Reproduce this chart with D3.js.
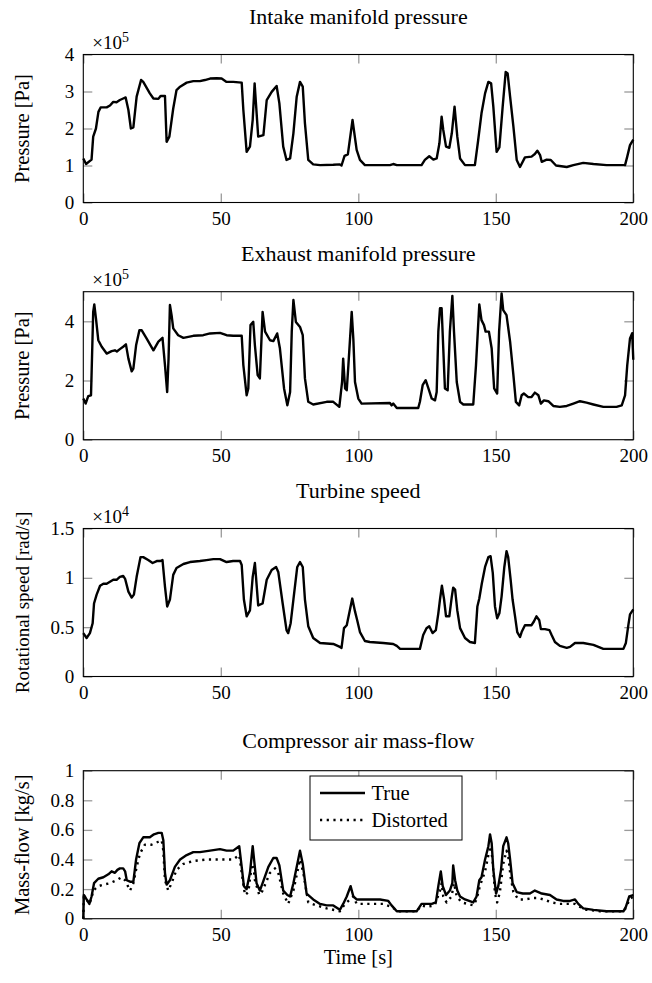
<!DOCTYPE html>
<html>
<head>
<meta charset="utf-8">
<script src="https://cdn.jsdelivr.net/npm/d3@7"></script>
<style>
  html, body { margin: 0; padding: 0; background: #fff; }
  svg text { font-family: "Liberation Serif", "DejaVu Serif", serif; fill: #000; }
</style>
</head>
<body>
<svg id="chart" width="652" height="983"></svg>
<script>
// time [s] vs value
const intake = [[0,1.19],[1,1.04],[3,1.16],[3.6,1.78],[4.6,2.0],[5.5,2.45],[6.3,2.57],[8.5,2.57],[9.7,2.62],[10.9,2.72],[12.1,2.71],[13.3,2.77],[14.5,2.81],[15.4,2.84],[16.4,2.5],[17.3,2.0],[18.2,2.03],[19.4,2.86],[21,3.31],[21.8,3.26],[24.2,2.95],[25.5,2.81],[27.3,2.8],[28.1,2.88],[29.7,2.88],[30.3,1.64],[31.3,1.78],[32.7,2.54],[33.9,3.04],[35.2,3.13],[37.6,3.24],[40,3.28],[42.4,3.28],[44.2,3.31],[46.1,3.35],[48.5,3.36],[50.3,3.35],[52.1,3.26],[54.5,3.26],[57.6,3.24],[58.2,2.5],[59.4,1.37],[60.6,1.51],[61.6,2.23],[62.3,3.22],[62.7,2.77],[63.6,1.78],[65.5,1.82],[66.7,2.77],[68.5,2.99],[70.3,3.15],[71.3,2.68],[72.7,1.51],[73.9,1.15],[75.2,1.19],[76.4,1.87],[77.6,2.86],[78.8,3.26],[79.8,3.13],[80.6,2.14],[81.8,1.15],[83.6,1.03],[86.1,1.01],[90.9,1.02],[93.3,1.03],[93.9,1.0],[95,1.26],[96.2,1.3],[97.9,2.23],[99.4,1.42],[100.6,1.15],[102.4,1.01],[111.5,1.01],[112.7,1.04],[114,1.01],[123,1.01],[124.2,1.15],[125.8,1.25],[127.3,1.16],[128.5,1.19],[129.5,1.6],[130.3,2.32],[130.9,1.96],[131.9,1.51],[133.1,1.48],[134,1.87],[135,2.59],[136,1.78],[137,1.19],[138.8,1.01],[142.4,1.01],[143.6,1.69],[144.8,2.41],[146.1,2.95],[147.3,3.26],[148.3,3.22],[149.1,2.59],[150.3,1.37],[151.3,1.49],[152.5,2.59],[153.6,3.53],[154.3,3.49],[155.2,2.86],[156.4,2.05],[157.6,1.15],[158.8,0.96],[160.6,1.22],[163,1.24],[164.2,1.31],[165.1,1.4],[166.1,1.28],[166.7,1.1],[168.5,1.16],[170,1.15],[171.9,1.0],[175.8,0.96],[178.2,1.01],[181.8,1.07],[185.5,1.04],[190.3,1.01],[197,1.01],[197.8,1.24],[198.8,1.55],[200,1.7]];

const exhaust = [[0,1.39],[0.85,1.22],[1.8,1.47],[2.8,1.5],[3.0,2.18],[3.6,4.32],[4.0,4.57],[4.6,4.1],[5.45,3.36],[6.7,3.14],[8.5,2.91],[10.3,2.99],[11.5,3.02],[12.2,2.98],[13.3,3.06],[14.5,3.14],[15.5,3.22],[16.4,2.74],[17.6,2.31],[18.2,2.4],[19.2,3.19],[20.4,3.7],[21.2,3.7],[23,3.42],[25.5,3.02],[27.3,3.31],[28.8,3.44],[29.7,2.52],[30.5,1.61],[31.0,2.74],[31.5,4.55],[32.1,4.21],[32.7,3.76],[34.5,3.53],[36.4,3.44],[40,3.51],[43.6,3.53],[46.1,3.59],[49.7,3.61],[52.1,3.53],[54.5,3.51],[57.6,3.51],[58.2,2.52],[59.4,1.5],[60,1.73],[60.8,3.87],[61.8,3.98],[62.4,3.19],[63.4,2.18],[64.2,2.07],[65.2,4.32],[66.1,3.65],[67.9,3.36],[69.1,3.33],[70.5,3.59],[71.5,3.08],[73,1.73],[74.2,1.16],[75.2,1.61],[75.8,3.65],[76.4,4.72],[77.3,3.98],[78.8,3.81],[79.8,3.53],[80.6,2.07],[81.8,1.28],[83.6,1.19],[88.5,1.28],[90.9,1.28],[93.1,1.11],[94.1,1.95],[94.5,2.74],[95.2,1.73],[95.8,1.67],[96.4,2.52],[97,3.42],[97.6,4.32],[98.2,3.4],[98.8,1.95],[100,1.39],[101.2,1.22],[111.5,1.24],[112.1,1.16],[112.7,1.22],[114,1.07],[121.8,1.07],[122.4,1.28],[123.4,1.84],[124.5,2.01],[125.5,1.73],[126.7,1.39],[127.9,1.33],[128.5,1.61],[129.1,3.65],[129.7,4.44],[130.3,4.44],[130.9,3.08],[131.5,1.73],[132.5,1.67],[133.3,3.65],[134.2,4.86],[134.8,3.65],[135.8,1.95],[137,1.28],[138.2,1.19],[141.8,1.19],[142.8,2.52],[144,4.57],[144.8,4.04],[145.7,3.87],[146.3,3.65],[147.5,3.65],[148.5,3.08],[149.4,1.73],[150.5,1.56],[151.2,3.65],[152.1,4.94],[152.7,4.38],[153.9,4.21],[155.2,3.31],[156.4,2.18],[157.3,1.28],[158.5,1.16],[159.4,1.5],[160.2,1.56],[161.8,1.44],[163,1.44],[164.2,1.59],[165.5,1.5],[166.4,1.22],[167.5,1.33],[169.1,1.3],[170.9,1.14],[173.3,1.11],[175.8,1.14],[178.2,1.22],[180.6,1.3],[183,1.25],[185.5,1.19],[189.1,1.11],[193.9,1.11],[195.8,1.16],[197,1.5],[197.8,2.52],[198.8,3.42],[199.6,3.6],[200,2.7]];

const turbine = [[0,0.44],[1.2,0.39],[2.4,0.44],[3.4,0.54],[3.9,0.74],[4.85,0.83],[6.1,0.92],[7.3,0.94],[8.5,0.94],[9.7,0.96],[10.9,0.98],[12.1,0.98],[13.3,1.01],[14.5,1.02],[15.2,0.99],[16.4,0.86],[17.6,0.8],[18.4,0.83],[19.4,1.01],[20.8,1.21],[21.8,1.21],[23.6,1.18],[25.2,1.15],[26.7,1.17],[27.9,1.17],[28.8,1.18],[29.7,0.91],[30.5,0.71],[31.5,0.78],[32.7,1.03],[33.9,1.1],[36.4,1.14],[38.8,1.16],[42.4,1.17],[44.8,1.18],[47.3,1.19],[49.7,1.19],[52.1,1.16],[54.5,1.17],[57,1.17],[57.6,1.13],[58.4,0.78],[59.4,0.61],[60.6,0.67],[61.6,1.01],[62.4,1.15],[62.8,1.01],[63.6,0.72],[65.2,0.74],[66.7,0.98],[68.5,1.08],[70.1,1.11],[70.9,1.06],[72.5,0.74],[73.9,0.47],[74.5,0.44],[75.4,0.54],[76.4,0.78],[77.8,1.11],[78.8,1.16],[79.8,1.11],[80.6,0.78],[81.8,0.51],[83.6,0.39],[86.1,0.34],[90.9,0.33],[93.3,0.3],[93.9,0.29],[94.8,0.49],[95.8,0.52],[96.7,0.64],[97.8,0.79],[98.8,0.66],[99.6,0.57],[100.6,0.45],[102.4,0.36],[104.2,0.35],[109.1,0.34],[112.7,0.33],[114,0.31],[115.2,0.28],[122.4,0.28],[123.6,0.42],[124.8,0.49],[125.8,0.51],[127,0.44],[128.2,0.47],[129.1,0.64],[129.7,0.78],[130.4,0.92],[131.2,0.78],[131.9,0.61],[133.1,0.61],[134,0.81],[134.5,0.9],[135.2,0.88],[136,0.67],[137,0.49],[138.8,0.39],[140.6,0.35],[142.4,0.34],[143.3,0.71],[144,0.79],[144.9,0.94],[146.1,1.11],[147.3,1.21],[148.1,1.22],[148.9,1.05],[149.7,0.71],[150.5,0.59],[151.3,0.64],[152.1,0.81],[153.1,1.11],[153.9,1.27],[154.5,1.21],[155.4,0.98],[156.1,0.78],[157,0.61],[157.8,0.45],[158.8,0.4],[159.4,0.45],[160.6,0.52],[163,0.52],[163.9,0.56],[164.8,0.61],[165.8,0.57],[166.4,0.48],[167.9,0.48],[169.5,0.47],[170.3,0.42],[171.5,0.35],[173.3,0.31],[175.8,0.29],[177,0.3],[178.8,0.34],[181.8,0.34],[185.5,0.32],[189.1,0.28],[196.4,0.28],[197.3,0.34],[198.2,0.52],[198.8,0.63],[200,0.68]];

const flowTrue = [[0,0],[0.2,0.16],[0.6,0.15],[1.2,0.13],[2.2,0.1],[3,0.15],[3.9,0.24],[5.45,0.27],[7.3,0.28],[9.1,0.3],[10.3,0.32],[11.5,0.31],[12.4,0.33],[13.3,0.34],[14.5,0.34],[15.2,0.32],[15.8,0.26],[17,0.25],[18.2,0.25],[19.2,0.4],[20.4,0.51],[21.8,0.55],[24.2,0.55],[25.7,0.57],[27.3,0.58],[28.5,0.58],[29.1,0.53],[29.7,0.31],[30.3,0.23],[31.5,0.26],[33.3,0.35],[35.2,0.4],[37.6,0.43],[40,0.45],[42.4,0.45],[46.1,0.46],[49.7,0.47],[52.1,0.46],[54.5,0.46],[56.7,0.49],[57.6,0.35],[58.4,0.22],[59.4,0.2],[60.6,0.31],[61.6,0.49],[62.1,0.4],[63,0.24],[64.2,0.19],[65.2,0.24],[67.3,0.35],[69.1,0.41],[70.3,0.41],[71.3,0.36],[72.7,0.19],[74.2,0.16],[75.2,0.15],[76.4,0.24],[78.8,0.46],[79.8,0.37],[81.2,0.17],[83.6,0.13],[86.1,0.1],[88.5,0.09],[90.9,0.09],[93.3,0.06],[94.5,0.1],[95.8,0.15],[97.2,0.22],[98.2,0.15],[99.4,0.13],[103,0.13],[107.9,0.13],[110.9,0.12],[112.1,0.09],[114,0.05],[121.2,0.05],[123,0.1],[124.2,0.1],[125.5,0.1],[126.7,0.1],[128.2,0.11],[129.1,0.22],[130,0.32],[130.7,0.22],[131.9,0.16],[133.3,0.19],[134.2,0.24],[134.5,0.36],[135.2,0.26],[136,0.19],[137,0.15],[138.8,0.13],[141.8,0.11],[143,0.15],[144,0.26],[144.8,0.28],[146.1,0.4],[147.3,0.49],[147.9,0.57],[148.5,0.51],[149.1,0.33],[150.1,0.17],[150.9,0.22],[151.9,0.33],[152.7,0.49],[153.9,0.55],[154.5,0.51],[155.2,0.4],[156.1,0.24],[157.6,0.18],[159.8,0.17],[162.4,0.17],[164.2,0.19],[165.5,0.18],[166.7,0.17],[169.7,0.16],[172.1,0.13],[174.5,0.12],[177,0.12],[178.8,0.13],[180,0.1],[181.8,0.07],[185.5,0.06],[190.3,0.05],[196.4,0.05],[197.3,0.08],[198.5,0.15],[200,0.16]];

const flowDistorted = [[0,0],[0.2,0.15],[1.2,0.13],[2.2,0.1],[3,0.14],[3.6,0.19],[5.45,0.22],[7.3,0.23],[9.7,0.24],[12.1,0.26],[13.9,0.28],[15.2,0.26],[17,0.19],[18.2,0.24],[19.4,0.35],[20.6,0.44],[22.4,0.5],[24.8,0.5],[27.3,0.52],[28.5,0.53],[29.1,0.46],[29.7,0.26],[30.9,0.19],[32.1,0.24],[33.9,0.33],[36.4,0.37],[40,0.39],[44.8,0.4],[49.7,0.4],[54.5,0.4],[56.7,0.43],[57.6,0.31],[58.8,0.16],[60,0.18],[61.2,0.35],[61.8,0.37],[62.4,0.26],[64,0.16],[65.2,0.19],[67.9,0.31],[69.7,0.34],[70.9,0.31],[72.7,0.17],[74.5,0.1],[76.4,0.19],[78.8,0.4],[80,0.31],[81.8,0.11],[84.8,0.09],[88.5,0.07],[93.3,0.05],[95.2,0.1],[97.6,0.14],[98.2,0.15],[99.4,0.1],[103,0.1],[109.1,0.1],[112.1,0.08],[114.5,0.05],[121.2,0.05],[123,0.09],[124.8,0.08],[127.8,0.09],[129.7,0.19],[130.3,0.24],[130.9,0.15],[132.1,0.11],[133.9,0.15],[134.8,0.24],[135.8,0.15],[137.6,0.11],[141.8,0.09],[143,0.13],[144.2,0.22],[146.1,0.32],[147.3,0.43],[148.1,0.49],[148.8,0.4],[149.7,0.17],[150.5,0.11],[151.5,0.18],[152.7,0.37],[153.9,0.46],[154.5,0.43],[155.4,0.28],[156.4,0.18],[158.2,0.13],[160.6,0.13],[163.6,0.14],[165.5,0.14],[167.3,0.13],[170.3,0.11],[173.3,0.1],[176.9,0.1],[178.8,0.1],[180.6,0.08],[183,0.06],[187.9,0.05],[196.4,0.05],[197.6,0.08],[198.5,0.13],[200,0.15]];

const xTicks = [0, 50, 100, 150, 200];
const intakeTicks = [0, 1, 2, 3, 4];
const exhaustTicks = [0, 2, 4];
const turbineTicks = [0, 0.5, 1, 1.5];
const flowTicks = [0, 0.2, 0.4, 0.6, 0.8, 1];

const panels = [
  { title: 'Intake manifold pressure', ylabel: 'Pressure [Pa]', exp: '5', yMax: 4, ticks: intakeTicks, top: 54.5, series: [intake], labelSize: 20.5 },
  { title: 'Exhaust manifold pressure', ylabel: 'Pressure [Pa]', exp: '5', yMax: 5, ticks: exhaustTicks, top: 291.7, series: [exhaust], labelSize: 20.5 },
  { title: 'Turbine speed', ylabel: 'Rotational speed [rad/s]', exp: '4', yMax: 1.5, ticks: turbineTicks, top: 528.5, series: [turbine], labelSize: 19 },
  { title: 'Compressor air mass-flow', ylabel: 'Mass-flow [kg/s]', exp: null, yMax: 1, ticks: flowTicks, top: 770.7, series: [flowTrue, flowDistorted], labelSize: 20.5 }
];

const svg = d3.select('#chart');
const left = 83.3;
const width = 550;
const height = 148;
const tickLen = 9;
const tickFont = 19;
const labelFont = 20.5;
const titleFont = 22;
const dots = '2.2,4.5';

const x = d3.scaleLinear().domain([0, 200]).range([0, width]);

panels.forEach((p, i) => {
  const y = d3.scaleLinear().domain([0, p.yMax]).range([height, 0]);
  const g = svg.append('g').attr('transform', `translate(${left},${p.top})`);

  // ticks, inward on all four sides
  const fmt = d3.format('');
  g.append('g').attr('transform', `translate(0,${height})`)
    .call(d3.axisBottom(x).tickValues(xTicks).tickSize(-tickLen).tickPadding(9).tickFormat(fmt));
  g.append('g')
    .call(d3.axisTop(x).tickValues(xTicks).tickSize(-tickLen).tickFormat(''));
  g.append('g')
    .call(d3.axisLeft(y).tickValues(p.ticks).tickSize(-tickLen).tickPadding(9).tickFormat(fmt));
  g.append('g').attr('transform', `translate(${width},0)`)
    .call(d3.axisRight(y).tickValues(p.ticks).tickSize(-tickLen).tickFormat(''));

  g.selectAll('.domain').remove();
  g.selectAll('.tick line').attr('stroke', '#9a9a9a').attr('stroke-width', 1.3);
  g.selectAll('.tick text').attr('font-size', tickFont).attr('font-family', '"Liberation Serif", serif').attr('fill', '#000');

  const line = d3.line().x(d => x(d[0])).y(d => y(d[1]));
  p.series.forEach((s, k) => {
    g.append('path')
      .datum(s)
      .attr('d', line)
      .attr('fill', 'none')
      .attr('stroke', '#000')
      .attr('stroke-width', 2.4)
      .attr('stroke-linejoin', 'round')
      .attr('stroke-dasharray', k === 1 ? dots : null);
  });

  g.append('rect')
    .attr('width', width).attr('height', height)
    .attr('fill', 'none').attr('stroke', '#000').attr('stroke-width', 1.1);

  // title
  g.append('text')
    .attr('x', width / 2)
    .attr('y', p.exp ? -31 : -22.5)
    .attr('text-anchor', 'middle')
    .attr('font-size', titleFont)
    .text(p.title);

  // exponent label
  if (p.exp) {
    const t = g.append('text').attr('x', 9).attr('y', -6).attr('font-size', tickFont);
    t.append('tspan').text('×10');
    t.append('tspan').attr('dy', -7).attr('font-size', 14).text(p.exp);
  }

  // y label
  g.append('text')
    .attr('transform', `translate(${29 - left},${height / 2}) rotate(-90)`)
    .attr('text-anchor', 'middle')
    .attr('font-size', p.labelSize)
    .text(p.ylabel);

  if (i === 3) {
    g.append('text')
      .attr('x', width / 2)
      .attr('y', height + 45)
      .attr('text-anchor', 'middle')
      .attr('font-size', labelFont)
      .text('Time [s]');

    // legend
    const lg = g.append('g').attr('transform', `translate(${310 - left},${776 - p.top})`);
    lg.append('rect').attr('width', 152).attr('height', 64)
      .attr('fill', '#fff').attr('stroke', '#000').attr('stroke-width', 1);
    const entries = ['True', 'Distorted'];
    entries.forEach((name, k) => {
      const yy = 17 + k * 27;
      lg.append('line').attr('x1', 10).attr('x2', 55).attr('y1', yy).attr('y2', yy)
        .attr('stroke', '#000').attr('stroke-width', 2.4)
        .attr('stroke-dasharray', k === 1 ? dots : null);
      lg.append('text').attr('x', 61.5).attr('y', yy + 6.5).attr('font-size', labelFont).text(name);
    });
  }
});
</script>
</body>
</html>
